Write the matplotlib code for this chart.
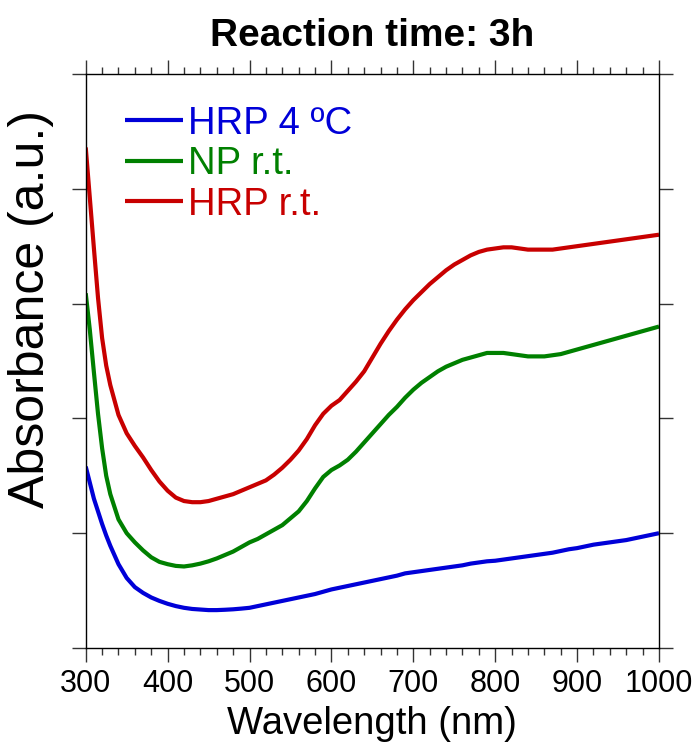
import matplotlib
matplotlib.use("Agg")
import matplotlib.pyplot as plt
from matplotlib.ticker import MultipleLocator

plt.rcParams['font.family'] = ['Liberation Sans', 'DejaVu Sans']

wavelength = [300, 305, 310, 315, 320, 325, 330,
              340, 350, 360, 370, 380, 390, 400, 410, 420, 430,
              440, 450, 460, 470, 480, 490, 500, 510, 520, 530,
              540, 550, 560, 570, 580, 590, 600, 610, 620, 630,
              640, 650, 660, 670, 680, 690, 700, 710, 720, 730,
              740, 750, 760, 770, 780, 790, 800, 810, 820, 830,
              840, 850, 860, 870, 880, 890, 900, 910, 920, 930,
              940, 950, 960, 970, 980, 990, 1000]

hrp_4c = [1.58, 1.44, 1.30, 1.19, 1.08, 0.98, 0.89,
          0.73, 0.61, 0.53, 0.48, 0.44, 0.41, 0.385, 0.365, 0.35, 0.34,
          0.335, 0.33, 0.33, 0.333, 0.337, 0.343, 0.35, 0.365, 0.38, 0.395,
          0.41, 0.425, 0.44, 0.455, 0.47, 0.49, 0.51, 0.525, 0.54, 0.555,
          0.57, 0.585, 0.60, 0.615, 0.63, 0.65, 0.66, 0.67, 0.68, 0.69,
          0.70, 0.71, 0.72, 0.735, 0.745, 0.755, 0.76, 0.77, 0.78, 0.79,
          0.80, 0.81, 0.82, 0.83, 0.845, 0.86, 0.87, 0.885, 0.90, 0.91,
          0.92, 0.93, 0.94, 0.955, 0.97, 0.985, 1.00]

np_rt = [3.09, 2.77, 2.40, 2.04, 1.74, 1.50, 1.34,
         1.12, 1.00, 0.92, 0.85, 0.79, 0.75, 0.73, 0.715, 0.71, 0.72,
         0.735, 0.755, 0.78, 0.81, 0.84, 0.88, 0.92, 0.95, 0.99, 1.03,
         1.07, 1.13, 1.19, 1.28, 1.39, 1.49, 1.55, 1.59, 1.64, 1.71,
         1.79, 1.87, 1.95, 2.03, 2.10, 2.18, 2.25, 2.31, 2.36, 2.41,
         2.45, 2.48, 2.51, 2.53, 2.55, 2.57, 2.57, 2.57, 2.56, 2.55,
         2.54, 2.54, 2.54, 2.55, 2.56, 2.58, 2.60, 2.62, 2.64, 2.66,
         2.68, 2.70, 2.72, 2.74, 2.76, 2.78, 2.80]

hrp_rt = [4.36, 3.92, 3.48, 3.05, 2.70, 2.46, 2.29,
          2.03, 1.87, 1.76, 1.66, 1.55, 1.45, 1.37, 1.31, 1.28, 1.27,
          1.27, 1.28, 1.30, 1.32, 1.34, 1.37, 1.40, 1.43, 1.46, 1.51,
          1.57, 1.64, 1.72, 1.82, 1.94, 2.04, 2.11, 2.16, 2.24, 2.32,
          2.41, 2.53, 2.65, 2.76, 2.86, 2.95, 3.03, 3.10, 3.17, 3.23,
          3.29, 3.34, 3.38, 3.42, 3.45, 3.47, 3.48, 3.49, 3.49, 3.48,
          3.47, 3.47, 3.47, 3.47, 3.48, 3.49, 3.50, 3.51, 3.52, 3.53,
          3.54, 3.55, 3.56, 3.57, 3.58, 3.59, 3.60]

labels = ["HRP 4 \u00baC", "NP r.t.", "HRP r.t."]
colors = ["#0000d8", "#008000", "#c80000"]
xticks = [300, 400, 500, 600, 700, 800, 900, 1000]

fig = plt.figure(figsize=(6.97, 7.42), dpi=100)
ax = fig.add_axes([0.1230, 0.1267, 0.8225, 0.7736])

for y, lab, c in zip([hrp_4c, np_rt, hrp_rt], labels, colors):
    ax.plot(wavelength, y, color=c, lw=3, label=lab,
            solid_capstyle='butt', solid_joinstyle='round')

ax.set_xlim(300, 1000)
ax.set_ylim(0, 5)
ax.set_xticks(xticks)
ax.set_xticklabels([str(v) for v in xticks])
ax.xaxis.set_minor_locator(MultipleLocator(20))
ax.yaxis.set_major_locator(MultipleLocator(1))
ax.set_yticklabels([])

ax.tick_params(axis='both', which='major', direction='out', length=10, width=1,
               top=True, right=True, labelsize=22, pad=5, color='#333333')
ax.tick_params(axis='x', which='minor', direction='out', length=5, width=1,
               top=True, color='#333333')
for s in ax.spines.values():
    s.set_linewidth(1)

ax.set_xlabel("Wavelength (nm)", fontsize=27.5, labelpad=5)
ax.set_ylabel("Absorbance (a.u.)", fontsize=36)
ax.yaxis.set_label_coords(-0.056, 0.59)
ax.set_title("Reaction time: 3h", fontsize=28, fontweight='bold', pad=20)

leg = ax.legend(loc='upper left', bbox_to_anchor=(0.0686, 0.945), frameon=False,
                fontsize=27.5, handlelength=1.52, handletextpad=0.12, borderpad=0,
                borderaxespad=0, labelspacing=0.12, labelcolor='linecolor')

fig.savefig("out.png", dpi=100)
